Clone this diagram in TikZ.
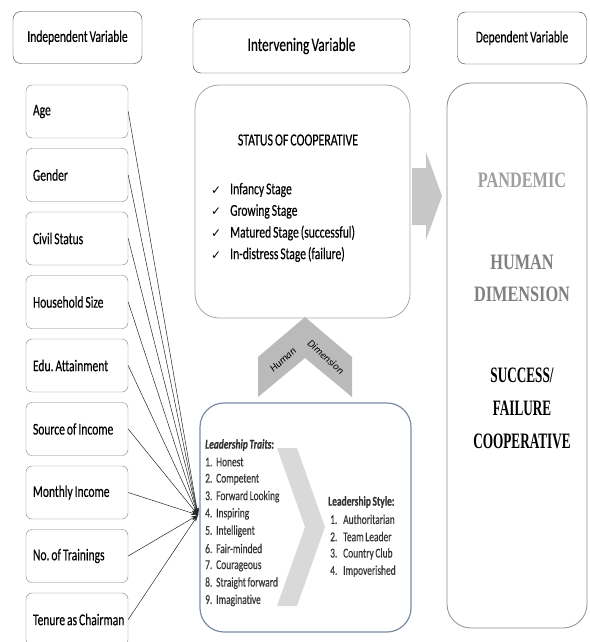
\documentclass[tikz,border=0pt]{standalone}
\usepackage{fontspec}
\setmainfont{Carlito}[FakeStretch=0.7, WordSpace=0.75, FakeBold=0.3]
\newfontfamily\depgray{Liberation Serif}[FakeStretch=0.74]
\newfontfamily\depblack{Liberation Serif}[FakeStretch=0.6]
\newfontfamily\chevfont{Carlito}[FakeStretch=1.0]
\newfontfamily\checkfont{DejaVu Sans}
\newcommand{\chk}{{\checkfont\fontsize{12}{12}\selectfont ✓}\hspace{9pt}}
\definecolor{leadblue}{HTML}{7A8BA3}
\usetikzlibrary{arrows.meta}
\frenchspacing

\begin{document}
\begin{tikzpicture}
[
    x=1pt, y=-1pt,
    header/.style={draw=black!75, rounded corners=8pt, minimum width=129pt, minimum height=52pt, font=\fontsize{16.5}{18}\selectfont},
    varbox/.style={draw=black!50, rounded corners=6pt, minimum height=53pt, text width=95pt, inner xsep=3.5pt, align=flush left, font=\fontsize{16.5}{18}\selectfont, execute at begin node={\hspace*{3.5pt}}},
    conn/.style={-{Stealth[length=7pt,width=4pt]}, line width=0.5pt, black!85},
    bigbox/.style={rounded corners=24pt, line width=0.8pt},
    stage/.style={anchor=west, inner sep=0pt, font=\fontsize{16.5}{18}\selectfont},
    trait/.style={anchor=west, inner sep=0pt, text=black!80, font=\fontsize{13.5}{15}\selectfont},
]
    \useasboundingbox (0,0) rectangle (589,642);

    % headers
    \node[header] (indep) at (77.5,37.5) {Independent Variable};
    \node[header, minimum width=217pt, minimum height=54pt, font=\fontsize{19}{21}\selectfont] (interv) at (301.5,46) {Intervening Variable};
    \node[header] (dep) at (522,38) {Dependent Variable};

    % independent variables
    \node[varbox] (age) at (77,111.5) {Age};
    \node[varbox] (gender) at (77,175) {Gender};
    \node[varbox] (civil) at (77,238.5) {Civil Status};
    \node[varbox] (household) at (77,302) {Household Size};
    \node[varbox] (edu) at (77,365.5) {Edu. Attainment};
    \node[varbox] (source) at (77,429) {Source of Income};
    \node[varbox] (monthly) at (77,492.5) {Monthly Income};
    \node[varbox] (trainings) at (77,556) {No. of Trainings};
    \node[varbox] (tenure) at (77,619.5) {Tenure as Chairman};

    \coordinate (hub) at (198,515);
    \draw[conn] (age.east) -- (hub);
    \draw[conn] (gender.east) -- (hub);
    \draw[conn] (civil.east) -- (hub);
    \draw[conn] (household.east) -- (hub);
    \draw[conn] (edu.east) -- (hub);
    \draw[conn] (source.east) -- (hub);
    \draw[conn] (monthly.east) -- (hub);
    \draw[conn] (trainings.east) -- (hub);
    \draw[conn] (tenure.east) -- (hub);

    % status of cooperative
    \node[bigbox, draw=black!35, minimum width=215pt, minimum height=233pt] (status) at (302.5,201.5) {};
    \node[font=\fontsize{17}{19}\selectfont] (stitle) at (298,140) {STATUS OF COOPERATIVE};
    \node[stage] (infancy) at (211,190) {\chk Infancy Stage};
    \node[stage] (growing) at (211,211.5) {\chk Growing Stage};
    \node[stage] (matured) at (211,233) {\chk Matured Stage (successful)};
    \node[stage] (distress) at (211,254.5) {\chk In-distress Stage (failure)};

    % arrow to dependent
    \fill[black!22] (412,168) -- (426,168) -- (426,152) -- (442,196) -- (426,240) -- (426,225) -- (412,225) -- cycle;

    % dependent variable
    \node[bigbox, draw=black!45, minimum width=140pt, minimum height=545pt] (depbox) at (517,355.5) {};
    \node[text=black!38, font=\depgray\bfseries\fontsize{22}{32}\selectfont] (pandemic) at (522,180) {PANDEMIC};
    \node[align=center, text=black!50, font=\depgray\bfseries\fontsize{22}{32}\selectfont] (human) at (522,278) {HUMAN\\DIMENSION};
    \node[align=center, font=\depblack\bfseries\fontsize{22}{33}\selectfont] (success) at (522,408) {SUCCESS/\\FAILURE\\COOPERATIVE};

    % human dimension chevron
    \fill[black!27] (305,317) -- (352,357) -- (352,397) -- (305,358) -- (258,397) -- (258,357) -- cycle;
    \node[rotate=42, inner sep=0pt, font=\chevfont\itshape\fontsize{10.5}{11}\selectfont] (hlabel) at (283,360) {Human};
    \node[rotate=-42, inner sep=0pt, font=\chevfont\itshape\fontsize{10.5}{11}\selectfont] (dlabel) at (326,357) {Dimension};

    % leadership
    \node[bigbox, draw=leadblue, line width=1.2pt, minimum width=211pt, minimum height=229pt] (leadbox) at (305.5,517.5) {};
    \fill[black!15] (277,448) -- (297,448) -- (325,527) -- (297,606) -- (277,606) -- (305,527) -- cycle;
    \node[trait, font=\bfseries\itshape\fontsize{13.5}{15}\selectfont] (traits) at (205,445) {Leadership Traits:};
    \node[trait] (t1) at (205,462) {\makebox[11pt][l]{1.}Honest};
    \node[trait] (t2) at (205,479.3) {\makebox[11pt][l]{2.}Competent};
    \node[trait] (t3) at (205,496.6) {\makebox[11pt][l]{3.}Forward Looking};
    \node[trait] (t4) at (205,513.9) {\makebox[11pt][l]{4.}Inspiring};
    \node[trait] (t5) at (205,531.2) {\makebox[11pt][l]{5.}Intelligent};
    \node[trait] (t6) at (205,548.5) {\makebox[11pt][l]{6.}Fair-minded};
    \node[trait] (t7) at (205,565.8) {\makebox[11pt][l]{7.}Courageous};
    \node[trait] (t8) at (205,583.1) {\makebox[11pt][l]{8.}Straight forward};
    \node[trait] (t9) at (205,600.4) {\makebox[11pt][l]{9.}Imaginative};
    \node[trait, font=\bfseries\fontsize{13.5}{15}\selectfont] (styles) at (328,502) {Leadership Style:};
    \node[trait] (s1) at (330,519.3) {\makebox[13pt][l]{1.}Authoritarian};
    \node[trait] (s2) at (330,536.6) {\makebox[13pt][l]{2.}Team Leader};
    \node[trait] (s3) at (330,553.9) {\makebox[13pt][l]{3.}Country Club};
    \node[trait] (s4) at (330,571.2) {\makebox[13pt][l]{4.}Impoverished};
\end{tikzpicture}
\end{document}
